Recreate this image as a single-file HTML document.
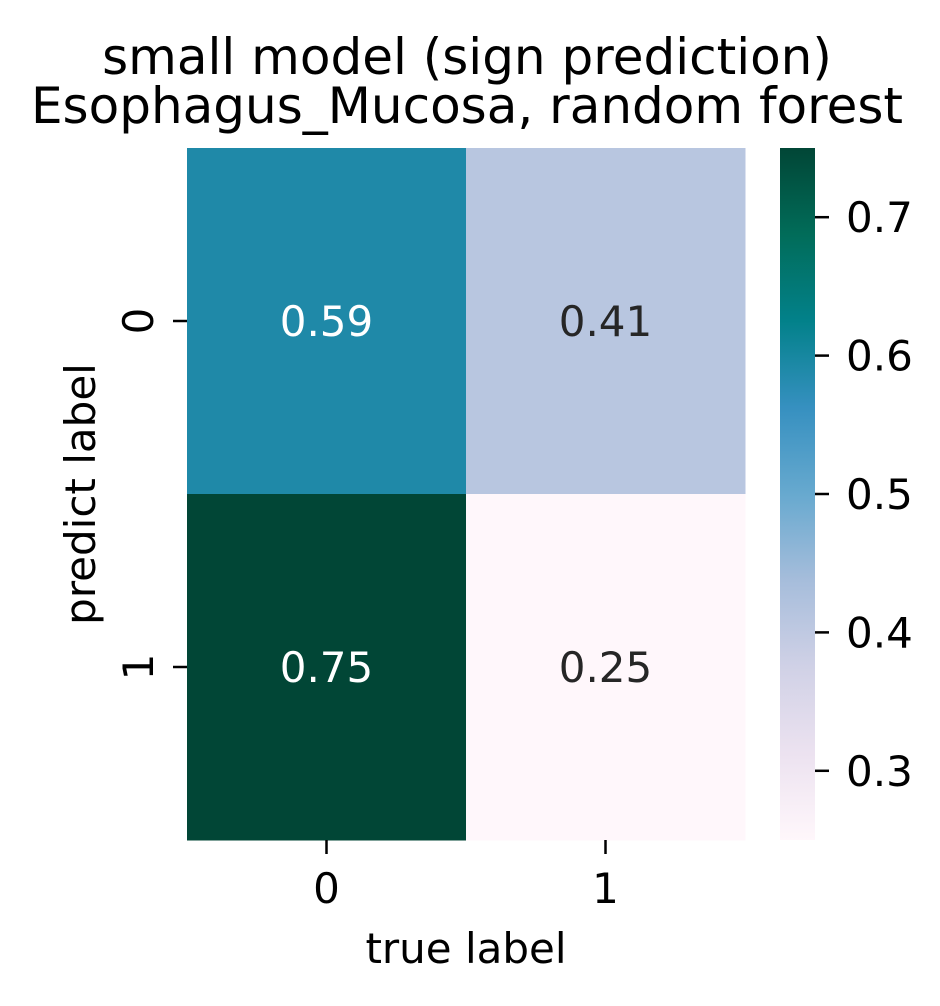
<!DOCTYPE html>
<html><head><meta charset="utf-8"><style>
body{margin:0;background:#fff;}
svg text{font-family:"DejaVu Sans","Liberation Sans",sans-serif;}
</style></head><body>
<svg id="chart" width="940" height="1001" xmlns="http://www.w3.org/2000/svg">
<defs><linearGradient id="cbg" x1="0" y1="1" x2="0" y2="0">
<stop offset="0" stop-color="#fff7fb"/><stop offset="0.125" stop-color="#ece2f0"/><stop offset="0.25" stop-color="#d0d1e6"/><stop offset="0.375" stop-color="#a6bddb"/><stop offset="0.5" stop-color="#67a9cf"/><stop offset="0.625" stop-color="#3690c0"/><stop offset="0.75" stop-color="#02818a"/><stop offset="0.875" stop-color="#016c59"/><stop offset="1" stop-color="#014636"/>
</linearGradient></defs>
<text x="467" y="74" font-size="50" text-anchor="middle">small model (sign prediction)</text>
<text x="467" y="123" font-size="50" text-anchor="middle">Esophagus_Mucosa, random forest</text>
<g id="cells"></g>
<rect x="780" y="148" width="35" height="692" fill="url(#cbg)"/>
<g id="cbticks"></g>
<text x="466" y="963" font-size="42" text-anchor="middle">true label</text>
<text transform="translate(95,494) rotate(-90)" font-size="42" text-anchor="middle">predict label</text>
</svg>
<script>
const xCats=["0","1"];
const yCats=["0","1"];
const values=[[0.59,0.41],[0.75,0.25]];
const cbTicks=[0.3,0.4,0.5,0.6,0.7];
const vmin=0.25, vmax=0.75;
const L=187,R=745,T=148,B=840;
const stops=[[0,[255,247,251]],[0.125,[236,226,240]],[0.25,[208,209,230]],[0.375,[166,189,219]],[0.5,[103,169,207]],[0.625,[54,144,192]],[0.75,[2,129,138]],[0.875,[1,108,89]],[1,[1,70,54]]];
function cmap(v){let t=Math.max(0,Math.min(1,(v-vmin)/(vmax-vmin)));for(let i=1;i<stops.length;i++){if(t<=stops[i][0]){const a=stops[i-1],b=stops[i];const f=(t-a[0])/(b[0]-a[0]);const c=a[1].map((x,k)=>Math.round(x+(b[1][k]-x)*f));return `rgb(${c})`;}}return 'rgb(1,70,54)';}
const cw=(R-L)/xCats.length, ch=(B-T)/yCats.length;
const cy=v=>T+(vmax-v)/(vmax-vmin)*(B-T);
const NS="http://www.w3.org/2000/svg";
const svg=document.getElementById('chart');
const g=document.getElementById('cells');
function mk(tag,attrs,parent){const e=document.createElementNS(NS,tag);for(const k in attrs)e.setAttribute(k,attrs[k]);parent.appendChild(e);return e;}
yCats.forEach((yc,i)=>{xCats.forEach((xc,j)=>{
 const v=values[i][j];
 const r=mk('rect',{x:L+j*cw,y:T+i*ch,width:cw+0.5,height:ch+0.5,fill:cmap(v)},g);
 
 
 const t=mk('text',{x:L+j*cw+cw/2,y:T+i*ch+ch/2+15,'font-size':42,'text-anchor':'middle',fill:(v-vmin)/(vmax-vmin)>0.5?'#fff':'#262626'},g);
 t.textContent=v.toFixed(2);
 
 
});});
xCats.forEach((c,j)=>{const x=L+j*cw+cw/2;
 const l=mk('line',{x1:x,x2:x,y1:B,y2:B+14,stroke:'#000','stroke-width':2.5},svg);
 
 
 const t=mk('text',{x:x,y:B+63,'font-size':42,'text-anchor':'middle'},svg);t.textContent=c;
 
 
});
yCats.forEach((c,i)=>{const y=T+i*ch+ch/2;
 const l=mk('line',{x1:L-14,x2:L,y1:y,y2:y,stroke:'#000','stroke-width':2.5},svg);
 
 
 const t=mk('text',{transform:`translate(153,${y}) rotate(-90)`,'font-size':42,'text-anchor':'middle'},svg);t.textContent=c;
 
 
});
const cbg=document.getElementById('cbticks');
cbTicks.forEach(v=>{const y=cy(v);
 const l=mk('line',{x1:815,x2:829,y1:y,y2:y,stroke:'#000','stroke-width':2.5},cbg);
 
 
 const t=mk('text',{x:846,y:y+15,'font-size':42},cbg);t.textContent=v.toFixed(1);
 
 
});
</script>
</body></html>
